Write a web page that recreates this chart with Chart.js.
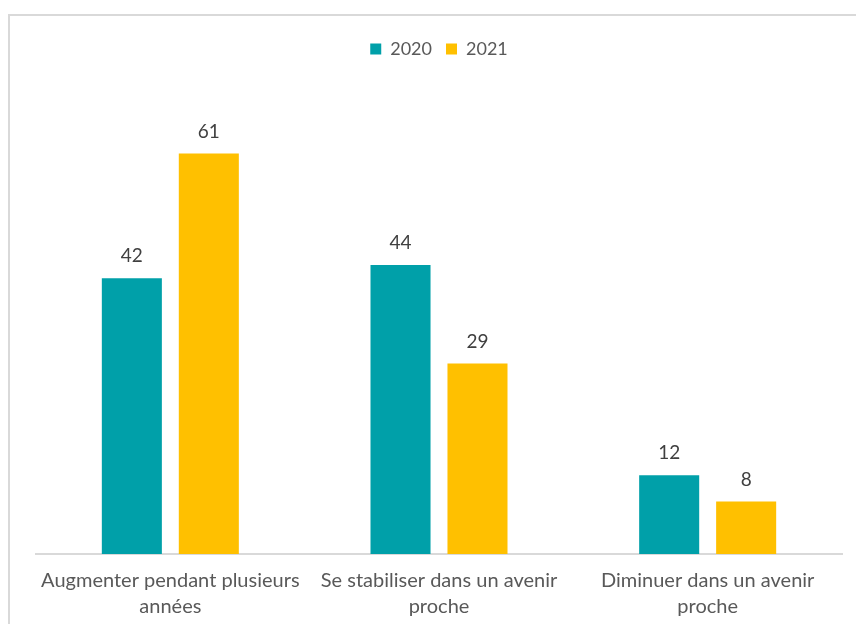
<!DOCTYPE html>
<html>
<head>
<meta charset="utf-8">
<script src="https://cdn.jsdelivr.net/npm/chart.js@4.4.1/dist/chart.umd.min.js"></script>
<style>
  html, body { margin: 0; padding: 0; background: #fff; overflow: hidden; }
  #frame {
    position: absolute; left: 8px; top: 14px; width: 900px; height: 700px;
    border: 2px solid #d9d9d9; box-sizing: border-box;
  }
  #wrap { position: absolute; left: 0; top: 0; width: 856px; height: 624px; }
</style>
</head>
<body>
<div id="frame"></div>
<div id="wrap"><canvas id="graph"></canvas></div>
<script>
const categories = [
  ["Augmenter pendant plusieurs", "années"],
  ["Se stabiliser dans un avenir", "proche"],
  ["Diminuer dans un avenir", "proche"]
];
const values2020 = [42, 44, 12];
const values2021 = [61, 29, 8];
const seriesLabels = ["2020", "2021"];

const FONT = "Lato, 'Open Sans', sans-serif";

// draws the value above each bar
const valueLabels = {
  id: "valueLabels",
  afterDatasetsDraw(chart) {
    const ctx = chart.ctx;
    ctx.save();
    ctx.font = "19px " + FONT;
    ctx.fillStyle = "#404040";
    ctx.textAlign = "center";
    ctx.textBaseline = "middle";
    chart.data.datasets.forEach((ds, i) => {
      chart.getDatasetMeta(i).data.forEach((bar, j) => {
        ctx.fillText(String(ds.data[j]), bar.x, bar.y - 22);
      });
    });
    ctx.restore();
  }
};

new Chart(document.getElementById("graph"), {
  type: "bar",
  data: {
    labels: categories,
    datasets: [
      { label: seriesLabels[0], data: values2020, backgroundColor: "#00A0A9" },
      { label: seriesLabels[1], data: values2021, backgroundColor: "#FFC000" }
    ]
  },
  options: {
    responsive: true,
    maintainAspectRatio: false,
    animation: false,
    categoryPercentage: 0.573,
    barPercentage: 0.78,
    layout: { padding: { left: 36, right: 14, top: 26, bottom: 0 } },
    plugins: {
      legend: {
        position: "top",
        labels: {
          boxWidth: 11, boxHeight: 11, padding: 14,
          color: "#595959", font: { family: FONT, size: 18 }
        }
      },
      tooltip: { enabled: false }
    },
    scales: {
      x: {
        grid: { display: false },
        border: { display: true, color: "#d9d9d9", width: 2 },
        ticks: {
          color: "#595959", padding: 6, maxRotation: 0, autoSkip: false,
          font: { family: FONT, size: 20, lineHeight: 1.3 }
        },
        afterFit(scale) { scale.height = 70; }
      },
      y: { display: false, min: 0, max: 74 }
    }
  },
  plugins: [valueLabels]
});
</script>
</body>
</html>
